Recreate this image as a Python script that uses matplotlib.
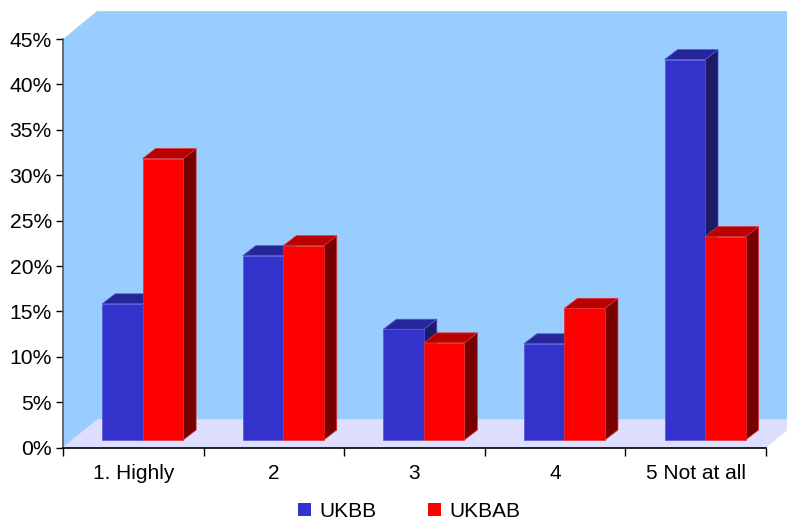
import matplotlib
matplotlib.use("Agg")
import matplotlib.pyplot as plt
from matplotlib.patches import Polygon, Patch
import numpy as np

categories = ["1. Highly", "2", "3", "4", "5 Not at all"]
series_names = ["UKBB", "UKBAB"]
ukbb = [15.0, 20.3, 12.2, 10.6, 41.9]
ukbab = [31.0, 21.4, 10.7, 14.5, 22.4]
y_ticks = [0, 5, 10, 15, 20, 25, 30, 35, 40, 45]
y_tick_labels = ["0%", "5%", "10%", "15%", "20%", "25%", "30%", "35%", "40%", "45%"]

front_cols = ["#3333CC", "#FF0000"]
top_cols = ["#262699", "#BB0000"]
side_cols = ["#1B1B66", "#770000"]
edge_cols = ["#5555DD", "#DD3333"]

plt.rcParams['font.family'] = ['Liberation Sans', 'DejaVu Sans']

W, H = 787, 521
fig = plt.figure(figsize=(W / 100, H / 100), dpi=100)

x0_px, x5_px = 63, 766
y0_px = 447.7
px_per_cat = (x5_px - x0_px) / 5
px_per_pct = 9.08
top_px = 11

ax = fig.add_axes([x0_px / W, 1 - y0_px / H, (W - x0_px) / W, (y0_px - top_px) / H])
xmax = (W - x0_px) / px_per_cat
ymax = (y0_px - top_px) / px_per_pct
ax.set_xlim(0, xmax)
ax.set_ylim(0, ymax)

# wall depth
dx = 34 / px_per_cat
dy = 28 / px_per_pct

wall = Polygon([(0, 0), (0, 45), (dx, 45 + dy), (xmax + 1, 45 + dy), (xmax + 1, dy), (dx, dy)],
               closed=True, facecolor="#99CCFF", edgecolor="none", zorder=0)
ax.add_patch(wall)
floor = Polygon([(0, 0), (dx, dy), (5 + dx, dy), (5, 0)], closed=True,
                facecolor="#DEDEFF", edgecolor="none", zorder=0.5)
ax.add_patch(floor)

# bars
d0 = 0.275
bw = 40.5 / px_per_cat
bdx = 13 / px_per_cat
bdy = 10 / px_per_pct
base = d0 * dy
z = 1
for i in range(len(categories)):
    for j, vals in enumerate([ukbb, ukbab]):
        v = vals[i]
        xl = i + 0.5 - bw + j * bw + d0 * dx
        top = base + v
        side = Polygon([(xl + bw, base), (xl + bw, top), (xl + bw + bdx, top + bdy), (xl + bw + bdx, base + bdy)],
                       closed=True, facecolor=side_cols[j], edgecolor=edge_cols[j], linewidth=0.5, zorder=z)
        ax.add_patch(side)
        topf = Polygon([(xl, top), (xl + bdx, top + bdy), (xl + bw + bdx, top + bdy), (xl + bw, top)],
                       closed=True, facecolor=top_cols[j], edgecolor=edge_cols[j], linewidth=0.5, zorder=z + 0.1)
        ax.add_patch(topf)
        ax.bar(xl, v, width=bw, bottom=base, align='edge', color=front_cols[j],
               edgecolor=edge_cols[j], linewidth=0.5, zorder=z + 0.2)
        z += 1

# axes styling
for s in ["top", "right"]:
    ax.spines[s].set_visible(False)
ax.spines["left"].set_bounds(0, 45)
ax.spines["left"].set_color("#555555")
ax.spines["left"].set_linewidth(1.2)
ax.spines["bottom"].set_bounds(0, 5)
ax.spines["bottom"].set_color("black")
ax.spines["bottom"].set_linewidth(1.2)
ax.spines["left"].set_zorder(50)
ax.spines["bottom"].set_zorder(50)

ax.set_yticks(y_ticks)
ax.set_yticklabels(y_tick_labels, fontsize=15.2)
ax.tick_params(axis='y', direction='out', length=5, width=1, pad=3, color="black")

ax.set_xticks(np.arange(len(categories)) + 0.5)
ax.set_xticklabels(categories, fontsize=15)
ax.set_xticks(np.arange(len(categories) + 1), minor=True)
ax.tick_params(axis='x', which='major', length=0, pad=12)
ax.tick_params(axis='x', which='minor', direction='out', length=6, width=1, color="black")

handles = [Patch(facecolor=front_cols[k], edgecolor='none') for k in range(2)]
fig.legend(handles, series_names, loc='center', bbox_to_anchor=(409 / W, 1 - 511.5 / H),
           ncol=2, frameon=False, fontsize=15, handlelength=0.62, handleheight=0.62,
           handletextpad=0.4, columnspacing=2.5, borderaxespad=0, borderpad=0)

fig.savefig("out.png", dpi=100)
